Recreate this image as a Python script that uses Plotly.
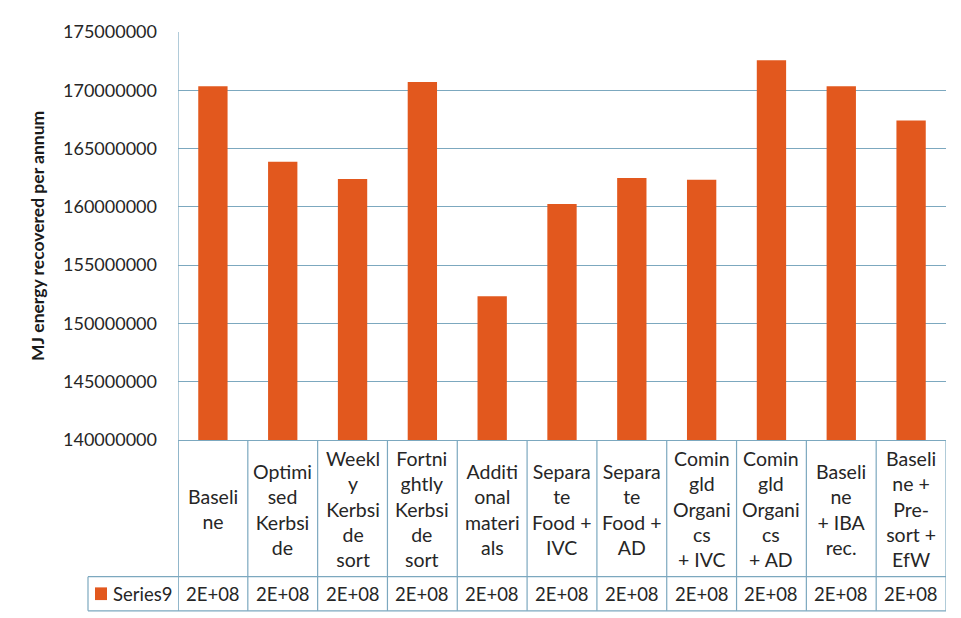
import plotly.graph_objects as go

categories = ["Baseline", "Optimised Kerbside", "Weekly Kerbside sort",
              "Fortnightly Kerbside sort", "Additional materials",
              "Separate Food + IVC", "Separate Food + AD",
              "Comingld Organics + IVC", "Comingld Organics + AD",
              "Baseline + IBA rec.", "Baseline + Pre-sort + EfW"]
tick_labels = ["Baseli<br>ne",
               "Optimi<br>sed<br>Kerbsi<br>de",
               "Weekl<br>y<br>Kerbsi<br>de<br>sort",
               "Fortni<br>ghtly<br>Kerbsi<br>de<br>sort",
               "Additi<br>onal<br>materi<br>als",
               "Separa<br>te<br>Food +<br>IVC",
               "Separa<br>te<br>Food +<br>AD",
               "Comin<br>gld<br>Organi<br>cs<br>+ IVC",
               "Comin<br>gld<br>Organi<br>cs<br>+ AD",
               "Baseli<br>ne<br>+ IBA<br>rec.",
               "Baseli<br>ne +<br>Pre-<br>sort +<br>EfW"]
values = [170340000, 163870000, 162390000, 170710000, 152340000, 160240000,
          162470000, 162330000, 172580000, 170340000, 167410000]
series_name = "Series9"
y_ticks = [140000000, 145000000, 150000000, 155000000, 160000000,
           165000000, 170000000, 175000000]

BAR = "#E2581E"
GRID = "#7CA8BF"
TXT = "#262626"
FONT = "Lato"

OFF = 8  # page body margin
W, H = 961 - OFF, 618 - OFF
# reference pixel positions of plot area
RL, RR, RT, RB = 178, 946, 22, 440
L, T = RL - OFF, RT - OFF
R = W - (RR - OFF)
B = H - (RB - OFF)
ph = H - T - B
pw = W - L - R


def py(pix):
    """reference pixel y -> paper y"""
    return (RB - pix) / ph


def px(pix):
    return (pix - RL) / pw


fig = go.Figure()
fig.add_trace(go.Bar(x=categories, y=values, marker=dict(color=BAR, line=dict(width=0)),
                     name=series_name, showlegend=False))

n = len(categories)
LW = 1.2
shapes = []
for i in range(n + 1):
    shapes.append(dict(type="line", xref="x", yref="paper", x0=i - 0.5, x1=i - 0.5,
                       y0=py(615), y1=0, line=dict(color=GRID, width=LW)))
shapes.append(dict(type="line", xref="x", yref="paper", x0=-0.5, x1=-0.5,
                   y0=py(615), y1=1, line=dict(color=GRID, width=LW)))
for yy in (580, 615):
    shapes.append(dict(type="line", xref="paper", yref="paper", x0=px(88), x1=1,
                       y0=py(yy), y1=py(yy), line=dict(color=GRID, width=LW)))
shapes.append(dict(type="line", xref="paper", yref="paper", x0=px(88), x1=px(88),
                   y0=py(615), y1=py(580), line=dict(color=GRID, width=LW)))
shapes.append(dict(type="rect", xref="paper", yref="paper", x0=px(95), x1=px(107),
                   y0=py(604), y1=py(591), fillcolor=BAR, line=dict(width=0)))

annotations = []
for i, c in enumerate(categories):
    annotations.append(dict(x=c, xref="x", y=py(511), yref="paper", text=tick_labels[i],
                            showarrow=False, xanchor="center", yanchor="middle",
                            font=dict(size=19.5, color=TXT, family=FONT)))
    annotations.append(dict(x=c, xref="x", y=py(597.5), yref="paper",
                            text=f"{values[i]:.0E}", showarrow=False,
                            xanchor="center", yanchor="middle",
                            font=dict(size=18.5, color=TXT, family=FONT)))
annotations.append(dict(x=px(111), xref="paper", y=py(597.5), yref="paper",
                        text=series_name, showarrow=False, xanchor="left",
                        yanchor="middle", font=dict(size=18.5, color=TXT, family=FONT)))
annotations.append(dict(x=px(37), xref="paper", y=py(231), yref="paper",
                        text="<b>MJ energy recovered per annum</b>", textangle=-90,
                        showarrow=False, xanchor="center", yanchor="middle",
                        font=dict(size=17.5, color="#1A1A1A", family=FONT)))

fig.update_layout(
    width=W, height=H,
    margin=dict(l=L, r=R, t=T, b=B, pad=0),
    paper_bgcolor="white", plot_bgcolor="white",
    bargap=0.58,
    shapes=shapes, annotations=annotations,
    xaxis=dict(showticklabels=False, showgrid=False, showline=True, linecolor=GRID,
               linewidth=LW, range=[-0.5, n - 0.5], fixedrange=True),
    yaxis=dict(range=[y_ticks[0], y_ticks[-1]], tickvals=y_ticks,
               ticktext=[str(v) for v in y_ticks], showgrid=True, gridcolor=GRID,
               gridwidth=LW, showline=False, ticks="", ticklabelstandoff=20,
               tickfont=dict(size=18, color=TXT, family=FONT), zeroline=False),
    showlegend=False,
)

fig.write_html("out.html", config={"displayModeBar": False})
